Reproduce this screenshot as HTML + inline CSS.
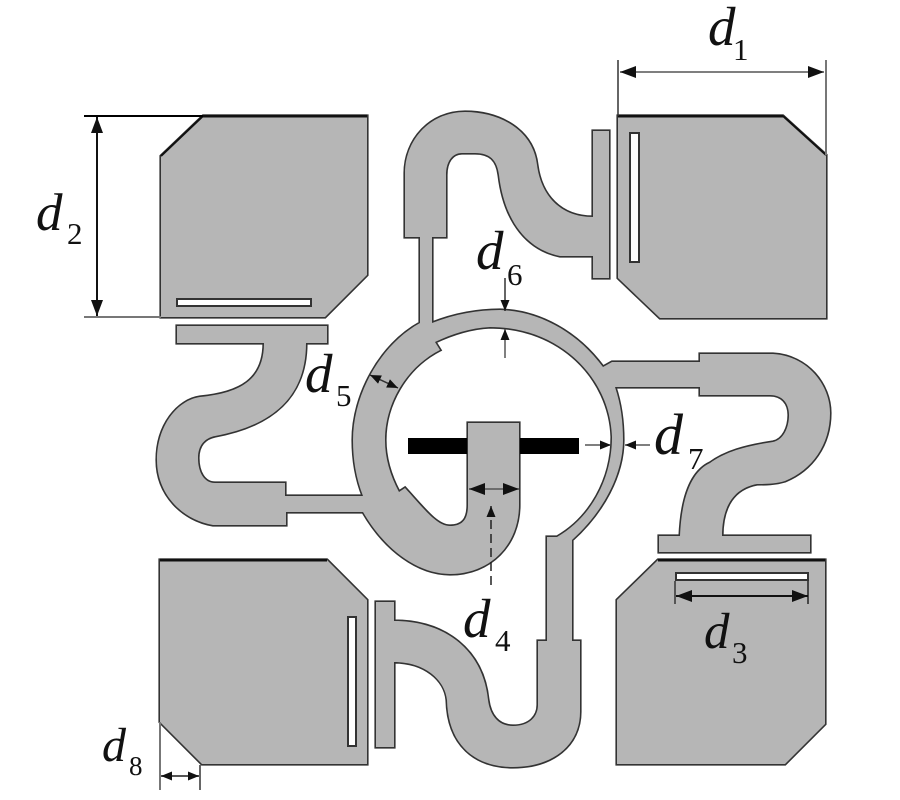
<!DOCTYPE html>
<html>
<head>
<meta charset="utf-8">
<style>
html,body{margin:0;padding:0;background:#fff;width:900px;height:800px;overflow:hidden}
svg{display:block}
text{font-family:"Liberation Serif",serif;fill:#111}
.d{font-style:italic;font-size:55px}
.s{font-size:31px}
</style>
</head>
<body>
<svg width="900" height="800" viewBox="0 0 900 800" xmlns="http://www.w3.org/2000/svg">
<defs>
<marker id="a" viewBox="0 0 16 12" refX="16" refY="6" markerWidth="16" markerHeight="12" markerUnits="userSpaceOnUse" orient="auto-start-reverse"><path d="M0,0L16,6L0,12Z" fill="#111"/></marker>
<marker id="b" viewBox="0 0 11 9" refX="11" refY="4.5" markerWidth="11" markerHeight="9" markerUnits="userSpaceOnUse" orient="auto-start-reverse"><path d="M0,0L11,4.5L0,9Z" fill="#111"/></marker>
<g id="shapes">
<path d="M161,156L203,116H367V275L325,317H161Z"/>
<path d="M618,116H783L826,155V318H660L618,278Z"/>
<path d="M160,560H327L367,600V764H202L160,722Z"/>
<path d="M617,600L658,560H825V724L785,764H617Z"/>
<path d="M405,237V173C405,140 430,112 465,112C500,112 533,130 537,165C541,195 560,217 593,217V131H609V278H593V256H560C530,250 505,225 499,175C497,160 490,153 475,153H462C452,153 446,162 446,175V237H432V323C455,314 478,310 500,310C540,311 578,333 603,367L612,362H700V354H773C808,356 830,385 830,413C830,445 812,470 785,481C775,484 765,484 757,484C735,488 722,505 722,536H810V552H659V536H680C682,490 695,470 710,463C725,452 745,446 773,442C783,440 789,428 789,415C789,403 782,395 770,395H700V387H615C621,405 623,422 623,440C623,475 603,512 572,540V641H580V712C580,745 553,767 513,767C475,767 448,745 447,700C445,680 425,662 394,662V747H376V602H394V621C445,621 483,650 488,700C490,715 498,726 513,726C530,726 538,716 538,705V641H547V537H557C590,518 612,480 612,437C610,378 560,327 490,327C470,328 452,334 435,342L440,350C405,368 385,405 385,440C385,458 390,475 399,492L405,488C425,510 437,526 450,526C462,526 468,520 468,505V423H519V505C519,545 490,574 450,574C418,574 385,550 363,512H286V525H213C183,520 157,495 157,460C157,425 178,400 200,397C240,393 264,380 264,343H177V326H327V343H306C306,395 275,425 215,436C205,438 198,445 198,458C198,472 204,483 215,483H285V496H363C356,478 353,460 353,440C353,395 380,345 420,323V237Z"/>
</g>
</defs>

<use href="#shapes" fill="#333" stroke="#333" stroke-width="3.2" stroke-linejoin="miter"/>
<use href="#shapes" fill="#b6b6b6"/>

<!-- darker top edges of pads -->
<g stroke="#111" fill="none">
<path d="M161,156L203,116" stroke-width="2"/>
<path d="M203,116H367" stroke-width="3"/>
<path d="M618,116H783" stroke-width="3"/>
<path d="M783,116L826,155" stroke-width="2"/>
<path d="M160,560H327" stroke-width="3"/>
<path d="M658,560H825" stroke-width="3"/>
</g>

<!-- slots -->
<g fill="#fff" stroke="#333" stroke-width="2">
<rect x="177" y="299" width="134" height="7"/>
<rect x="630" y="133" width="9" height="129"/>
<rect x="348" y="617" width="8" height="129"/>
<rect x="676" y="573" width="132" height="7"/>
</g>

<!-- black bar -->
<rect x="408" y="438" width="59" height="16" fill="#000"/>
<rect x="520" y="438" width="59" height="16" fill="#000"/>

<!-- dimension lines -->
<g stroke="#333" stroke-width="1.5" fill="none">
<path d="M618,60V116"/>
<path d="M826,60V155" stroke="#777" stroke-width="2"/>
<path d="M620,72H824" stroke="#555" marker-start="url(#a)" marker-end="url(#a)"/>
<path d="M84,116H203" stroke="#000" stroke-width="2"/>
<path d="M84,317H161" stroke="#777" stroke-width="2"/>
<path d="M97,117V316" stroke="#111" stroke-width="2" marker-start="url(#a)" marker-end="url(#a)"/>
<path d="M675,581V604" stroke="#555" stroke-width="2"/>
<path d="M808,581V604" stroke="#222"/>
<path d="M676,596H808" stroke="#111" stroke-width="2" marker-start="url(#a)" marker-end="url(#a)"/>
<path d="M469,489H519" stroke="#555" marker-start="url(#a)" marker-end="url(#a)"/>
<path d="M491,506V586" stroke-dasharray="9 5" stroke="#222" marker-start="url(#b)"/>
<path d="M370,375L398,388" marker-start="url(#b)" marker-end="url(#b)"/>
<path d="M505,278V311" marker-end="url(#b)"/>
<path d="M505,358V329" stroke="#555" marker-end="url(#b)"/>
<path d="M585,445H611" stroke="#555" marker-end="url(#b)"/>
<path d="M650,445H625" stroke="#555" marker-end="url(#b)"/>
<path d="M160,722V790" stroke="#777" stroke-width="2"/>
<path d="M200,765V790" stroke="#333"/>
<path d="M161,776H199" stroke="#555" stroke-width="2" marker-start="url(#b)" marker-end="url(#b)"/>
</g>

<!-- labels -->
<text class="d" x="708" y="45">d</text><text class="s" x="733" y="60">1</text>
<text class="d" x="36" y="230" style="font-size:53px">d</text><text class="s" x="67" y="244">2</text>
<text class="d" x="704" y="648" style="font-size:51px">d</text><text class="s" x="732" y="663">3</text>
<text class="d" x="463" y="637">d</text><text class="s" x="495" y="651">4</text>
<text class="d" x="305" y="392">d</text><text class="s" x="336" y="406">5</text>
<text class="d" x="476" y="269">d</text><text class="s" x="507" y="285">6</text>
<text class="d" x="654" y="454" style="font-size:58px">d</text><text class="s" x="688" y="469">7</text>
<text class="d" x="102" y="761" style="font-size:48px">d</text><text class="s" x="129" y="775" style="font-size:27px">8</text>
</svg>
</body>
</html>
